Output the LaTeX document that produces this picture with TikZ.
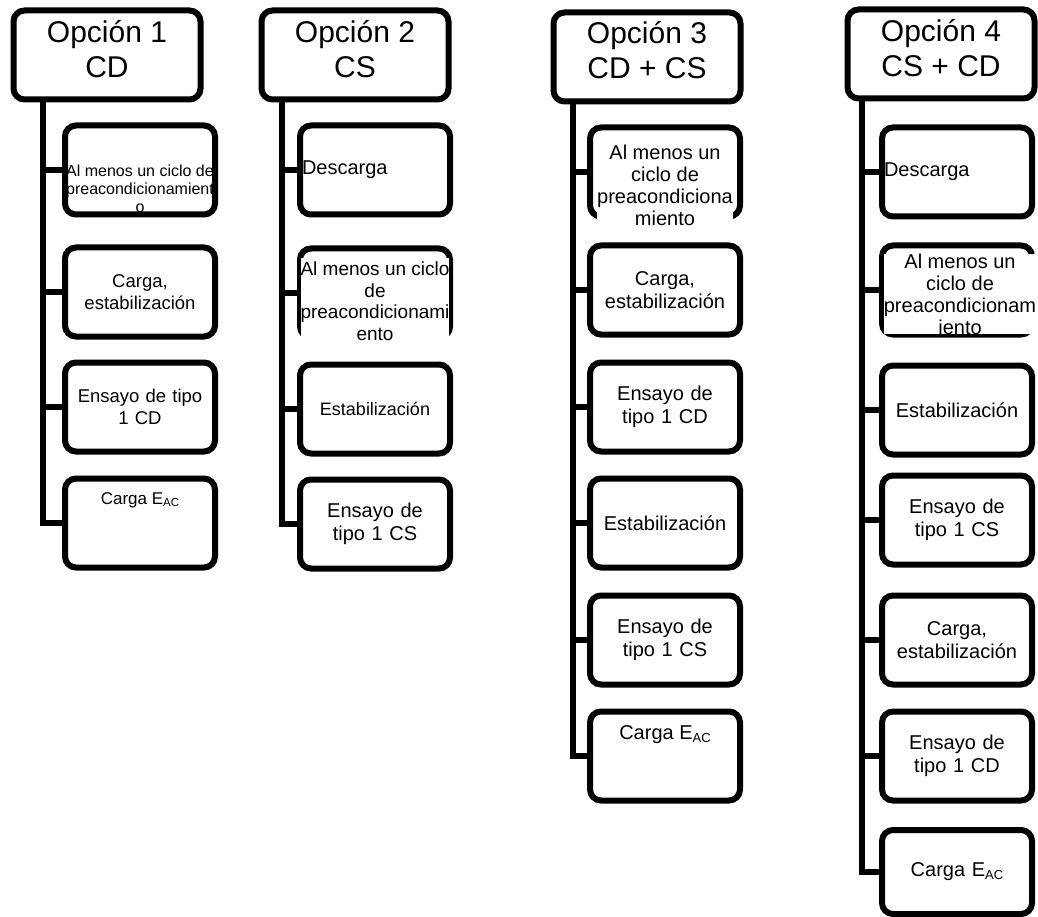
\documentclass[tikz,border=0pt]{standalone}
\usepackage{fontspec}
\setmainfont{Liberation Sans}
\usetikzlibrary{positioning}
\newcommand{\eac}[1]{E\raisebox{-0.12em}{\fontsize{#1}{#1}\selectfont AC}}

\begin{document}
\begin{tikzpicture}[x=1pt, y=-1pt,
  optbox/.style={draw, line width=6pt, rounded corners=11pt, minimum width=187pt, minimum height=89pt, inner sep=0pt},
  card/.style={draw, line width=6pt, rounded corners=11pt, minimum width=150pt, minimum height=89pt, inner sep=0pt, text width=146pt, align=center, font=\fontsize{20}{22.5}\selectfont},
  cardsm/.style={font=\fontsize{18.5}{21.5}\selectfont},
  lbl/.style={inner sep=0pt, align=center, font=\fontsize{20}{22}\selectfont},
  optlbl/.style={lbl, font=\fontsize{30}{35}\selectfont, yshift=6pt},
  overtext/.style={lbl, fill=white, inner ysep=3.5pt},
  stem/.style={line width=6pt}]
\useasboundingbox (0,0) rectangle (1038,917);
\node[optbox, label={[optlbl]center:Opción 1\\CD}] (h1) at (107,55) {};
\node[optbox, label={[optlbl]center:Opción 2\\CS}] (h2) at (355,55) {};
\node[optbox, label={[optlbl, yshift=1pt]center:Opción 3\\CD + CS}] (h3) at (647,57) {};
\node[optbox, label={[optlbl]center:Opción 4\\CS + CD}] (h4) at (941,54) {};
\coordinate (t1) at (43,0);
\coordinate (t2) at (282,0);
\coordinate (t3) at (573,0);
\coordinate (t4) at (862,0);
\node[card, label={[lbl, font=\fontsize{16}{18}\selectfont, yshift=-19pt]center:Al menos un ciclo de\\preacondicionamient\\o}] (c11) at (140,170) {};
\node[card, cardsm] (c12) at (140,292) {Carga,\\estabilización};
\node[card, cardsm] (c13) at (140,407) {Ensayo de tipo\\1 CD};
\node[card, label={[lbl, font=\fontsize{17}{20}\selectfont, yshift=23pt]center:Carga \eac{11.5}}] (c14) at (140,523) {};
\node[card, align=left] (c21) at (375,170) {Descarga};
\node[card, label={[overtext, font=\fontsize{19}{21.5}\selectfont, yshift=-8pt]center:Al menos un ciclo\\de\\preacondicionami\\ento}] (c22) at (375,293) {};
\node[card, font=\fontsize{18}{21}\selectfont] (c23) at (375,409) {Estabilización};
\node[card] (c24) at (375,524) {Ensayo de\\tipo 1 CS};
\node[card, label={[overtext, yshift=-13pt]center:Al menos un\\ciclo de\\preacondiciona\\miento}] (c31) at (665,172) {};
\node[card] (c32) at (665,290) {Carga,\\estabilización};
\node[card] (c33) at (665,407) {Ensayo de\\tipo 1 CD};
\node[card] (c34) at (665,523) {Estabilización};
\node[card] (c35) at (665,640) {Ensayo de\\tipo 1 CS};
\node[card, label={[lbl, yshift=21pt]center:Carga \eac{13}}] (c36) at (665,756) {};
\node[card, align=left] (c41) at (957,172) {Descarga};
\node[card, label={[overtext, inner sep=0pt, xshift=3pt, yshift=-4pt]center:Al menos un\\ciclo de\\preacondicionam\\iento}] (c42) at (957,290) {};
\node[card] (c43) at (957,410) {Estabilización};
\node[card] (c44) at (957,520) {Ensayo de\\tipo 1 CS};
\node[card] (c45) at (957,640) {Carga,\\estabilización};
\node[card] (c46) at (957,756) {Ensayo de\\tipo 1 CD};
\node[card, minimum height=84pt] (c47) at (957,872) {Carga \eac{13}};
\draw[stem] (t1 |- h1.south) |- (c14.west);
\draw[stem] (t1 |- c11.west) -- (c11.west);
\draw[stem] (t1 |- c12.west) -- (c12.west);
\draw[stem] (t1 |- c13.west) -- (c13.west);
\draw[stem] (t2 |- h2.south) |- (c24.west);
\draw[stem] (t2 |- c21.west) -- (c21.west);
\draw[stem] (t2 |- c22.west) -- (c22.west);
\draw[stem] (t2 |- c23.west) -- (c23.west);
\draw[stem] (t3 |- h3.south) |- (c36.west);
\draw[stem] (t3 |- c31.west) -- (c31.west);
\draw[stem] (t3 |- c32.west) -- (c32.west);
\draw[stem] (t3 |- c33.west) -- (c33.west);
\draw[stem] (t3 |- c34.west) -- (c34.west);
\draw[stem] (t3 |- c35.west) -- (c35.west);
\draw[stem] (t4 |- h4.south) |- (c47.west);
\draw[stem] (t4 |- c41.west) -- (c41.west);
\draw[stem] (t4 |- c42.west) -- (c42.west);
\draw[stem] (t4 |- c43.west) -- (c43.west);
\draw[stem] (t4 |- c44.west) -- (c44.west);
\draw[stem] (t4 |- c45.west) -- (c45.west);
\draw[stem] (t4 |- c46.west) -- (c46.west);
\end{tikzpicture}
\end{document}
